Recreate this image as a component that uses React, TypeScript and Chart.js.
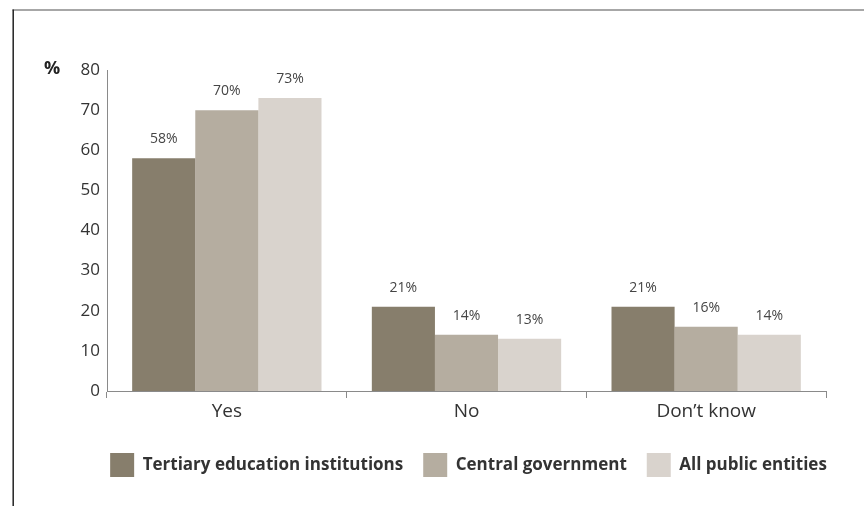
import React, { useEffect, useRef } from 'react';
import { Chart, registerables } from 'chart.js';

Chart.register(...registerables);

const categories = ['Yes', 'No', 'Don\u2019t know'];
const seriesNames = ['Tertiary education institutions', 'Central government', 'All public entities'];
const tertiaryValues = [58, 21, 21];
const centralValues = [70, 14, 16];
const allPublicValues = [73, 13, 14];
const yTickValues = [0, 10, 20, 30, 40, 50, 60, 70, 80];
const seriesColors = ['#877e6c', '#b5ada0', '#d9d3cd'];

const FONT = '"Open Sans", "Noto Sans", sans-serif';

const framePlugin = {
  id: 'frame',
  beforeDraw(chart: any) {
    const ctx = chart.ctx;
    ctx.save();
    ctx.lineWidth = 1.5;
    ctx.strokeStyle = '#8a8a8a';
    ctx.beginPath();
    ctx.moveTo(12.5, 10);
    ctx.lineTo(chart.width, 10);
    ctx.stroke();
    ctx.strokeStyle = '#222';
    ctx.beginPath();
    ctx.moveTo(13.2, 9.5);
    ctx.lineTo(13.2, chart.height);
    ctx.stroke();
    ctx.restore();
  },
};

const valueLabelPlugin = {
  id: 'valueLabels',
  afterDatasetsDraw(chart: any) {
    const ctx = chart.ctx;
    ctx.save();
    ctx.font = `14px ${FONT}`;
    ctx.fillStyle = '#454545';
    ctx.textAlign = 'center';
    ctx.textBaseline = 'middle';
    chart.data.datasets.forEach((ds: any, i: number) => {
      const meta = chart.getDatasetMeta(i);
      meta.data.forEach((el: any, j: number) => {
        ctx.fillText(`${ds.data[j]}%`, el.x, el.y - 19);
      });
    });
    ctx.restore();
  },
};

const percentPlugin = {
  id: 'percentUnit',
  afterDraw(chart: any) {
    const y = chart.scales.y;
    const ctx = chart.ctx;
    ctx.save();
    ctx.font = `bold 18px ${FONT}`;
    ctx.fillStyle = '#222';
    ctx.textAlign = 'center';
    ctx.textBaseline = 'middle';
    ctx.fillText('%', y.right - 55, y.getPixelForValue(80) - 1);
    ctx.restore();
  },
};

export default function App() {
  const canvasRef = useRef<HTMLCanvasElement | null>(null);

  useEffect(() => {
    document.body.style.margin = '0';
    const canvas = canvasRef.current;
    if (!canvas) return;
    const chart = new Chart(canvas, {
      type: 'bar',
      data: {
        labels: categories,
        datasets: [
          { label: seriesNames[0], data: tertiaryValues, backgroundColor: seriesColors[0] },
          { label: seriesNames[1], data: centralValues, backgroundColor: seriesColors[1] },
          { label: seriesNames[2], data: allPublicValues, backgroundColor: seriesColors[2] },
        ],
      },
      options: {
        responsive: false,
        animation: false,
        devicePixelRatio: 1,
        layout: { padding: { top: 70, right: 0, bottom: 19, left: 73 } },
        datasets: {
          bar: { categoryPercentage: 0.79, barPercentage: 1.0, borderWidth: 0 },
        },
        scales: {
          x: {
            grid: {
              display: true,
              drawOnChartArea: false,
              offset: true,
              drawTicks: true,
              tickLength: 7,
              color: '#8a8a8a',
              lineWidth: 1,
            },
            border: { display: true, color: '#8a8a8a', width: 1 },
            ticks: { color: '#333', font: { family: FONT, size: 19 }, padding: 2 },
            afterFit(scale: any) {
              scale.height = 42;
            },
          },
          y: {
            min: 0,
            max: 80,
            afterBuildTicks(scale: any) {
              scale.ticks = yTickValues.map((v) => ({ value: v }));
            },
            grid: { display: false, drawTicks: false },
            border: { display: true, color: '#8a8a8a', width: 1 },
            ticks: { color: '#333', font: { family: FONT, size: 17 }, padding: 7 },
            afterFit(scale: any) {
              scale.width = 34;
            },
          },
          yRight: {
            type: 'linear',
            position: 'right',
            display: true,
            grid: { display: false, drawTicks: false },
            border: { display: false },
            ticks: { display: false },
            afterFit(scale: any) {
              scale.width = 38;
            },
          },
        },
        plugins: {
          legend: {
            position: 'bottom',
            fullSize: true,
            labels: {
              boxWidth: 24,
              boxHeight: 24,
              padding: 20,
              color: '#333',
              font: { family: FONT, size: 17, weight: 'bold' },
            },
          },
          tooltip: { enabled: false },
        },
      },
      plugins: [framePlugin, valueLabelPlugin, percentPlugin],
    });
    return () => chart.destroy();
  }, []);

  return (
    <div style={{ position: 'absolute', left: 0, top: 0, width: 864, height: 506 }}>
      <canvas ref={canvasRef} width={864} height={506} style={{ width: 864, height: 506 }} />
    </div>
  );
}
